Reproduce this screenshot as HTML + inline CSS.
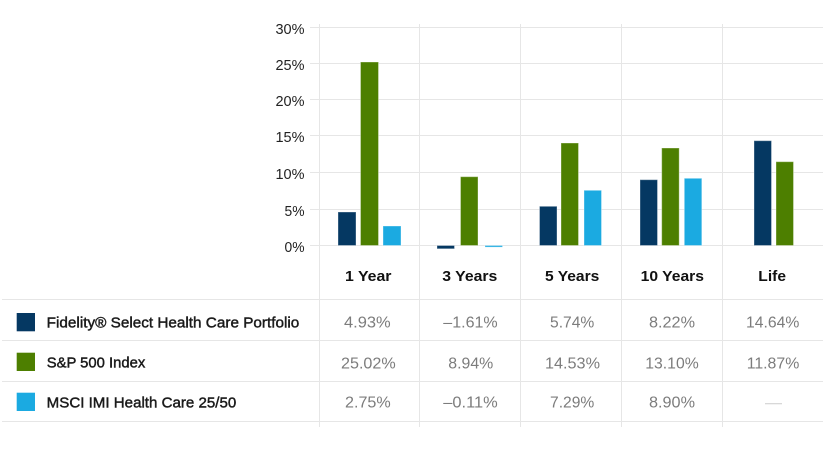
<!DOCTYPE html>
<html>
<head>
<meta charset="utf-8">
<style>
  html,body{margin:0;padding:0;background:#fff;}
  body{width:825px;height:450px;overflow:hidden;}
  svg{display:block;}
  .yl{font-family:"Liberation Sans",sans-serif;font-size:14.5px;fill:#222;text-anchor:end;}
  .hd{font-family:"Liberation Sans",sans-serif;font-size:15px;font-weight:bold;fill:#111;}
  .lg{font-family:"Liberation Sans",sans-serif;font-size:15px;font-weight:normal;fill:#1a1a1a;stroke:#1a1a1a;stroke-width:0.45px;}
  .v{font-family:"Liberation Sans",sans-serif;font-size:16px;fill:#7c7c7c;}
</style>
</head>
<body>
<svg width="825" height="450" viewBox="0 0 825 450" xmlns="http://www.w3.org/2000/svg">
  <g stroke="#e6e6e6" stroke-width="1">
    <line x1="310" y1="27.5" x2="823" y2="27.5"/>
    <line x1="310" y1="63.5" x2="823" y2="63.5"/>
    <line x1="310" y1="99.5" x2="823" y2="99.5"/>
    <line x1="310" y1="135.5" x2="823" y2="135.5"/>
    <line x1="310" y1="172.5" x2="823" y2="172.5"/>
    <line x1="310" y1="209.5" x2="823" y2="209.5"/>
    <line x1="310" y1="245.5" x2="823" y2="245.5"/>
    <line x1="319.5" y1="24" x2="319.5" y2="427"/>
    <line x1="419.5" y1="24" x2="419.5" y2="427"/>
    <line x1="520.5" y1="24" x2="520.5" y2="427"/>
    <line x1="621.5" y1="24" x2="621.5" y2="427"/>
    <line x1="722.5" y1="24" x2="722.5" y2="427"/>
    <line x1="2" y1="299.5" x2="823" y2="299.5"/>
    <line x1="2" y1="340.5" x2="823" y2="340.5"/>
    <line x1="2" y1="381.5" x2="823" y2="381.5"/>
    <line x1="2" y1="421.5" x2="823" y2="421.5"/>
  </g>

  <text class="yl" x="304.5" y="34" textLength="29" lengthAdjust="spacingAndGlyphs">30%</text>
  <text class="yl" x="304.5" y="70" textLength="29" lengthAdjust="spacingAndGlyphs">25%</text>
  <text class="yl" x="304.5" y="106" textLength="29" lengthAdjust="spacingAndGlyphs">20%</text>
  <text class="yl" x="304.5" y="142" textLength="29" lengthAdjust="spacingAndGlyphs">15%</text>
  <text class="yl" x="304.5" y="179" textLength="29" lengthAdjust="spacingAndGlyphs">10%</text>
  <text class="yl" x="304.5" y="216" textLength="20" lengthAdjust="spacingAndGlyphs">5%</text>
  <text class="yl" x="304.5" y="252" textLength="20" lengthAdjust="spacingAndGlyphs">0%</text>

  <g stroke="rgba(255,255,255,0.35)" stroke-width="1">
    <rect x="338" y="212" width="18" height="33.5" fill="#053862"/>
    <rect x="360.5" y="62" width="18" height="183.5" fill="#4d7f00"/>
    <rect x="383" y="226" width="18" height="19.5" fill="#1baae1"/>
    <rect x="437" y="245.5" width="17.5" height="3.3" fill="#053862"/>
    <rect x="460.5" y="176.7" width="17.5" height="68.8" fill="#4d7f00"/>
    <rect x="485" y="245.5" width="17.5" height="1.6" fill="#1baae1"/>
    <rect x="539.5" y="206.3" width="17.5" height="39.2" fill="#053862"/>
    <rect x="561" y="143" width="17.5" height="102.5" fill="#4d7f00"/>
    <rect x="584" y="190.3" width="17.5" height="55.2" fill="#1baae1"/>
    <rect x="640" y="179.7" width="17.5" height="65.8" fill="#053862"/>
    <rect x="661.7" y="148" width="17.5" height="97.5" fill="#4d7f00"/>
    <rect x="684.3" y="178.3" width="17.5" height="67.2" fill="#1baae1"/>
    <rect x="754" y="140.7" width="17.5" height="104.8" fill="#053862"/>
    <rect x="776" y="161.7" width="17.5" height="83.8" fill="#4d7f00"/>
  </g>

  <text class="hd" x="345" y="281" textLength="46.5" lengthAdjust="spacingAndGlyphs">1 Year</text>
  <text class="hd" x="442.3" y="281" textLength="55" lengthAdjust="spacingAndGlyphs">3 Years</text>
  <text class="hd" x="545" y="281" textLength="54.3" lengthAdjust="spacingAndGlyphs">5 Years</text>
  <text class="hd" x="640.7" y="281" textLength="63.3" lengthAdjust="spacingAndGlyphs">10 Years</text>
  <text class="hd" x="758.3" y="281" textLength="27.7" lengthAdjust="spacingAndGlyphs">Life</text>

  <rect x="16.7" y="313" width="18.3" height="18.3" fill="#053862"/>
  <rect x="16.7" y="352.7" width="18.3" height="18.3" fill="#4d7f00"/>
  <rect x="16.7" y="392.7" width="18.3" height="18.3" fill="#1baae1"/>
  <text class="lg" x="46.7" y="327.3" textLength="252.6" lengthAdjust="spacingAndGlyphs">Fidelity® Select Health Care Portfolio</text>
  <text class="lg" x="46.7" y="367.3" textLength="98.6" lengthAdjust="spacingAndGlyphs">S&amp;P 500 Index</text>
  <text class="lg" x="46.7" y="407.3" textLength="189.6" lengthAdjust="spacingAndGlyphs">MSCI IMI Health Care 25/50</text>

  <text class="v" x="344" y="327.5" textLength="46.7" lengthAdjust="spacingAndGlyphs">4.93%</text>
  <text class="v" x="443.3" y="327.5" textLength="54.4" lengthAdjust="spacingAndGlyphs">–1.61%</text>
  <text class="v" x="550" y="327.5" textLength="44.3" lengthAdjust="spacingAndGlyphs">5.74%</text>
  <text class="v" x="649" y="327.5" textLength="46" lengthAdjust="spacingAndGlyphs">8.22%</text>
  <text class="v" x="746" y="327.5" textLength="53.3" lengthAdjust="spacingAndGlyphs">14.64%</text>
  <text class="v" x="341" y="368.5" textLength="54.7" lengthAdjust="spacingAndGlyphs">25.02%</text>
  <text class="v" x="448.3" y="368.5" textLength="45" lengthAdjust="spacingAndGlyphs">8.94%</text>
  <text class="v" x="545" y="368.5" textLength="55" lengthAdjust="spacingAndGlyphs">14.53%</text>
  <text class="v" x="645.3" y="368.5" textLength="53.4" lengthAdjust="spacingAndGlyphs">13.10%</text>
  <text class="v" x="746.7" y="368.5" textLength="52.6" lengthAdjust="spacingAndGlyphs">11.87%</text>
  <text class="v" x="345" y="407.7" textLength="45.7" lengthAdjust="spacingAndGlyphs">2.75%</text>
  <text class="v" x="443.3" y="407.7" textLength="54.4" lengthAdjust="spacingAndGlyphs">–0.11%</text>
  <text class="v" x="550" y="407.7" textLength="44.3" lengthAdjust="spacingAndGlyphs">7.29%</text>
  <text class="v" x="649" y="407.7" textLength="46" lengthAdjust="spacingAndGlyphs">8.90%</text>
  <rect x="765" y="403" width="17" height="1.3" fill="#d8d8d8"/>
</svg>
</body>
</html>
